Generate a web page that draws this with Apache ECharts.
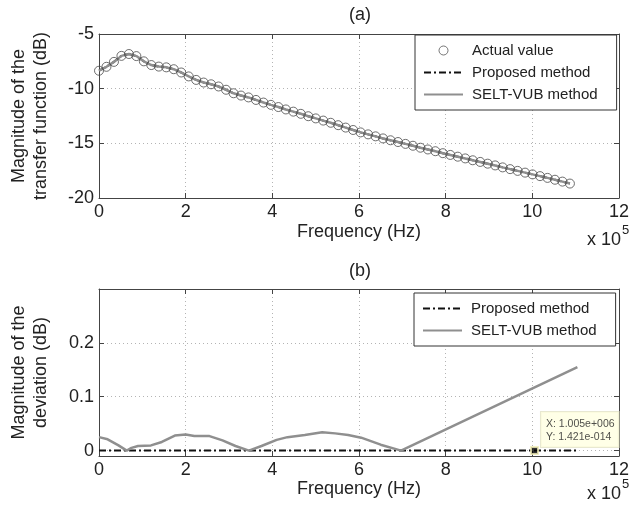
<!DOCTYPE html>
<html>
<head>
<meta charset="utf-8">
<script src="https://cdn.jsdelivr.net/npm/echarts@6/dist/echarts.min.js"></script>
<style>
  html, body { margin: 0; padding: 0; background: #fff; }
  #chart { width: 632px; height: 509px; }
</style>
</head>
<body>
<div id="chart"></div>
<script>
// frequency axis is in units of 1e5 Hz
var freqA = [0, 0.1725, 0.345, 0.5175, 0.69, 0.8625, 1.035, 1.2075, 1.38, 1.5525,
  1.725, 1.8975, 2.07, 2.2425, 2.415, 2.5875, 2.76, 2.9325, 3.105, 3.2775,
  3.45, 3.6225, 3.795, 3.9675, 4.14, 4.3125, 4.485, 4.6575, 4.83, 5.0025,
  5.175, 5.3475, 5.52, 5.6925, 5.865, 6.0375, 6.21, 6.3825, 6.555, 6.7275,
  6.9, 7.0725, 7.245, 7.4175, 7.59, 7.7625, 7.935, 8.1075, 8.28, 8.4525,
  8.625, 8.7975, 8.97, 9.1425, 9.315, 9.4875, 9.66, 9.8325, 10.005, 10.1775,
  10.35, 10.5225, 10.695, 10.8675];

// (a) magnitude of the transfer function, dB
var actualDb = [-8.36, -8.0, -7.55, -7.0, -6.83, -7.02, -7.5, -7.84, -7.98, -8.05,
  -8.22, -8.52, -8.88, -9.2, -9.44, -9.6, -9.8, -10.1, -10.42, -10.63,
  -10.8, -11.03, -11.27, -11.48, -11.68, -11.9, -12.1, -12.3, -12.52, -12.72,
  -12.92, -13.12, -13.34, -13.56, -13.78, -14.0, -14.18, -14.36, -14.55, -14.72,
  -14.88, -15.05, -15.22, -15.4, -15.56, -15.72, -15.9, -16.06, -16.22, -16.38,
  -16.55, -16.7, -16.86, -17.02, -17.2, -17.36, -17.52, -17.68, -17.84, -18.0,
  -18.16, -18.33, -18.5, -18.68];

// (b) magnitude of the deviation, dB
var freqDev = [0, 0.2, 0.45, 0.64, 0.75, 0.9, 1.2, 1.45, 1.75, 2.0,
  2.2, 2.55, 2.85, 3.15, 3.46, 3.75, 4.1, 4.35, 4.75, 5.15,
  5.45, 5.75, 6.05, 6.5, 6.97, 11.04];
var devSelt = [0.025, 0.021, 0.0097, 0.0, 0.005, 0.0086, 0.0097, 0.016, 0.028, 0.030,
  0.027, 0.027, 0.019, 0.0086, 0.0, 0.0086, 0.020, 0.025, 0.029, 0.034,
  0.032, 0.029, 0.024, 0.011, 0.0, 0.155];
var freqProp = [0, 11.04];
var devProp = [0, 0];

// data tip
var tipFreq = [10.05];
var tipDev = [1.421e-14];

var FONT = 'Liberation Sans, Arial, sans-serif';
var INK = '#222';

function pairs(xs, ys) {
  return xs.map(function (x, i) { return [x, ys[i]]; });
}
function matlabExp(v) {
  var s = v.toExponential(3).split('e');
  var e = parseInt(s[1], 10);
  var es = String(Math.abs(e));
  while (es.length < 3) es = '0' + es;
  return s[0] + 'e' + (e < 0 ? '-' : '+') + es;
}

var axisLine = { show: true, onZero: false, lineStyle: { color: '#444', width: 1 } };
var axisTick = { show: true, inside: true, length: 5, lineStyle: { color: '#444' } };
var axisLabel = { color: INK, fontSize: 18, fontFamily: FONT, margin: 5 };
var splitLine = { show: true, lineStyle: { color: '#b4b4b4', width: 1, type: [1, 3] } };

function xMain(g) {
  return {
    gridIndex: g, type: 'value', min: 0, max: 12, interval: 2,
    name: 'Frequency (Hz)', nameLocation: 'middle', nameGap: g === 0 ? 25 : 23,
    nameTextStyle: { color: INK, fontSize: 18, fontFamily: FONT },
    axisLine: axisLine, axisTick: axisTick, axisLabel: axisLabel, splitLine: splitLine
  };
}
function xMirror(g) {
  return {
    gridIndex: g, type: 'value', position: 'top', min: 0, max: 12, interval: 2,
    axisLine: axisLine, axisTick: axisTick, axisLabel: { show: false }, splitLine: { show: false }
  };
}

var lineOnly = { opacity: 0 };
var legendBase = {
  orient: 'vertical',
  backgroundColor: '#fff', borderColor: '#333', borderWidth: 1, borderRadius: 0,
  padding: [8, 19, 8, 8], itemGap: 7, itemWidth: 39, itemHeight: 9,
  textStyle: { color: INK, fontSize: 15, fontFamily: FONT, padding: [0, 0, 0, 4] },
  selectedMode: false
};

var option = {
  animation: false,
  backgroundColor: '#fff',
  grid: [
    { left: 99, right: 12, top: 34, height: 164 },
    { left: 99, right: 12, top: 289, height: 167 }
  ],
  xAxis: [xMain(0), xMain(1), xMirror(0), xMirror(1)],
  yAxis: [
    {
      gridIndex: 0, type: 'value', min: -20, max: -5, interval: 5,
      name: 'Magnitude of the\ntransfer function (dB)', nameLocation: 'middle', nameGap: 47,
      nameTextStyle: { color: INK, fontSize: 18, fontFamily: FONT, lineHeight: 22 },
      axisLine: axisLine, axisTick: axisTick, axisLabel: axisLabel, splitLine: splitLine
    },
    {
      gridIndex: 1, type: 'value', min: -0.01, max: 0.3,
      name: 'Magnitude of the\ndeviation (dB)', nameLocation: 'middle', nameGap: 47,
      nameTextStyle: { color: INK, fontSize: 18, fontFamily: FONT, lineHeight: 22 },
      axisLine: axisLine,
      axisTick: { show: true, inside: true, length: 5, lineStyle: { color: '#444' }, customValues: [0, 0.1, 0.2] },
      axisLabel: { color: INK, fontSize: 18, fontFamily: FONT, margin: 5, customValues: [0, 0.1, 0.2] },
      splitLine: splitLine
    },
    {
      gridIndex: 0, type: 'value', position: 'right', min: -20, max: -5, interval: 5,
      axisLine: axisLine, axisTick: axisTick, axisLabel: { show: false }, splitLine: { show: false }
    },
    {
      gridIndex: 1, type: 'value', position: 'right', min: -0.01, max: 0.3,
      axisLine: axisLine,
      axisTick: { show: true, inside: true, length: 5, lineStyle: { color: '#444' }, customValues: [0, 0.1, 0.2] },
      axisLabel: { show: false }, splitLine: { show: false }
    }
  ],
  legend: [
    Object.assign({}, legendBase, {
      left: 415, top: 35,
      data: [
        { name: 'Actual value', icon: 'circle', itemStyle: { color: 'rgba(0,0,0,0)', borderColor: '#555', borderWidth: 1 } },
        { name: 'Proposed method', itemStyle: lineOnly },
        { name: 'SELT-VUB method', itemStyle: lineOnly }
      ]
    }),
    Object.assign({}, legendBase, {
      left: 414, top: 293,
      data: [
        { name: 'Proposed method', itemStyle: lineOnly },
        { name: 'SELT-VUB method', itemStyle: lineOnly }
      ]
    })
  ],
  graphic: [
    { type: 'text', x: 360, y: 15, style: { text: '(a)', fill: INK, font: '18px ' + FONT, textAlign: 'center', textVerticalAlign: 'middle' } },
    { type: 'text', x: 360, y: 271, style: { text: '(b)', fill: INK, font: '18px ' + FONT, textAlign: 'center', textVerticalAlign: 'middle' } },
    { type: 'text', x: 621, y: 240, style: { text: 'x 10', fill: INK, font: '18px ' + FONT, textAlign: 'right', textVerticalAlign: 'middle' } },
    { type: 'text', x: 622, y: 230, style: { text: '5', fill: INK, font: '13px ' + FONT, textAlign: 'left', textVerticalAlign: 'middle' } },
    { type: 'text', x: 621, y: 494, style: { text: 'x 10', fill: INK, font: '18px ' + FONT, textAlign: 'right', textVerticalAlign: 'middle' } },
    { type: 'text', x: 622, y: 484, style: { text: '5', fill: INK, font: '13px ' + FONT, textAlign: 'left', textVerticalAlign: 'middle' } }
  ],
  series: [
    {
      name: 'Proposed method', type: 'line', xAxisIndex: 0, yAxisIndex: 0,
      data: pairs(freqA, actualDb), symbol: 'none', z: 2,
      lineStyle: { color: '#111', width: 2, type: [7, 3, 2, 3] }, itemStyle: { color: '#111' }
    },
    {
      name: 'SELT-VUB method', type: 'line', xAxisIndex: 0, yAxisIndex: 0,
      data: pairs(freqA, actualDb), symbol: 'none', z: 3,
      lineStyle: { color: '#8f8f8f', width: 2.5 }, itemStyle: { color: '#8f8f8f' }
    },
    {
      name: 'Actual value', type: 'scatter', xAxisIndex: 0, yAxisIndex: 0,
      data: pairs(freqA, actualDb), symbol: 'circle', symbolSize: 9, z: 4,
      itemStyle: { color: 'rgba(0,0,0,0)', borderColor: '#4a4a4a', borderWidth: 1 }
    },
    {
      name: 'Proposed method', type: 'line', xAxisIndex: 1, yAxisIndex: 1,
      data: pairs(freqProp, devProp), symbol: 'none', z: 3,
      lineStyle: { color: '#111', width: 2, type: [7, 3, 2, 3] }, itemStyle: { color: '#111' }
    },
    {
      name: 'SELT-VUB method', type: 'line', xAxisIndex: 1, yAxisIndex: 1,
      data: pairs(freqDev, devSelt), symbol: 'none', z: 4,
      lineStyle: { color: '#8f8f8f', width: 2.5 }, itemStyle: { color: '#8f8f8f' }
    },
    {
      name: 'tip', type: 'scatter', xAxisIndex: 1, yAxisIndex: 1,
      data: pairs(tipFreq, tipDev), symbol: 'rect', symbolSize: 7, z: 6,
      itemStyle: { color: '#000', borderColor: '#f3efb8', borderWidth: 2 },
      label: {
        show: true, position: [11, -34], align: 'left', verticalAlign: 'top',
        formatter: function (p) {
          return 'X: ' + matlabExp(p.value[0] * 1e5) + '\nY: ' + matlabExp(p.value[1]);
        },
        color: INK, fontSize: 10.5, fontFamily: FONT, lineHeight: 13,
        backgroundColor: '#ffffe1', borderColor: '#e2e2c6', borderWidth: 1, padding: [5, 4, 4, 5]
      }
    }
  ]
};

var chart = echarts.init(document.getElementById('chart'));
chart.setOption(option);
</script>
</body>
</html>
